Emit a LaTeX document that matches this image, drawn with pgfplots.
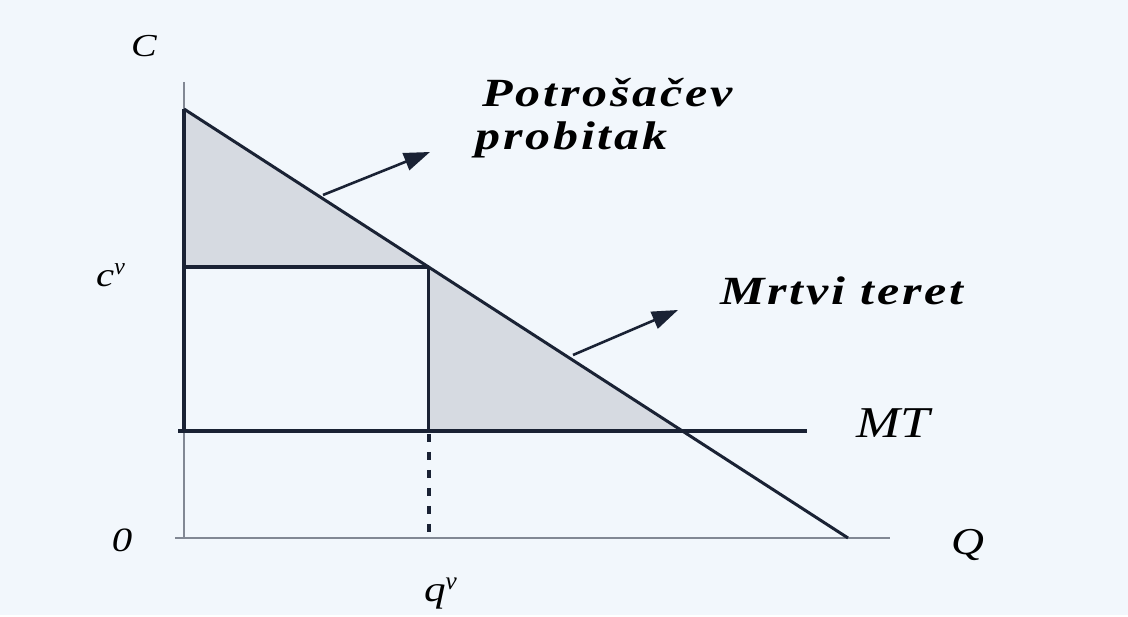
\documentclass[border=0pt]{standalone}
\usepackage{fontspec}
\setmainfont{Liberation Serif}
\newfontfamily\spaced[FakeStretch=1.25,LetterSpace=7]{Liberation Serif}
\newfontfamily\wide[FakeStretch=1.2]{Liberation Serif}
\usepackage{pgfplots}
\pgfplotsset{compat=1.18}
\usetikzlibrary{arrows.meta}
\definecolor{bgc}{RGB}{242,247,252}
\definecolor{ink}{RGB}{26,34,52}
\definecolor{shade}{RGB}{214,218,225}
\definecolor{axc}{RGB}{130,136,148}
\begin{document}
\begin{tikzpicture}
\begin{axis}[
  scale only axis, width=564pt, height=307.5pt,
  xmin=-184, xmax=944, ymin=-77, ymax=538,
  axis lines=none, clip=false,
  axis background/.style={fill=bgc},
]
% shaded areas: consumer surplus and deadweight loss
\addplot[draw=none, fill=shade] coordinates {(0,429) (0,271) (244.6,271) (0,429)};
\addplot[draw=none, fill=shade] coordinates {(244.6,271) (244.6,107) (498.4,107) (244.6,271)};
% axes
\addplot[axc, line width=1.1pt] coordinates {(0,456) (0,0)};
\addplot[axc, line width=1.1pt] coordinates {(-9,0) (706,0)};
\addplot[ink, line width=1.6pt] coordinates {(0,429) (0,107)};
% demand
\addplot[ink, line width=1.5pt] coordinates {(0,429) (664,0)};
% c^v level
\addplot[ink, line width=1.6pt] coordinates {(0,271) (244.6,271)};
% q^v
\addplot[ink, line width=1.6pt] coordinates {(244.6,271) (244.6,107)};
\addplot[ink, line width=2.1pt, dash pattern=on 4pt off 5pt] coordinates {(244.6,104) (244.6,0)};
% MT
\addplot[ink, line width=1.6pt] coordinates {(-6,107) (623,107)};
% arrows
\addplot[ink, line width=1.3pt, -{Triangle[length=13pt,width=9pt]}] coordinates {(139,343) (246,386)};
\addplot[ink, line width=1.3pt, -{Triangle[length=13pt,width=9pt]}] coordinates {(389,183) (494,228)};
% labels
\node[font=\fontsize{16}{19}\selectfont\wide\itshape, anchor=base] at (axis cs:-40,481) {C};
\node[font=\fontsize{17}{20}\selectfont\wide\itshape, anchor=base] at (axis cs:-73,251) {c$^{\mathit{v}}$};
\node[font=\fontsize{17}{20}\selectfont\wide\itshape, anchor=base] at (axis cs:-62,-14) {0};
\node[font=\fontsize{19}{22}\selectfont\wide\itshape, anchor=base] at (axis cs:784,-17) {Q};
\node[font=\fontsize{18}{21}\selectfont\wide\itshape, anchor=base] at (axis cs:257,-64) {q$^{\mathit{v}}$};
\node[font=\fontsize{22}{25}\selectfont\wide\itshape, anchor=base] at (axis cs:709,100) {MT};
\node[font=\fontsize{20}{24}\selectfont\spaced\bfseries\itshape, anchor=base west, inner sep=0pt] at (axis cs:298,431) {Potrošačev};
\node[font=\fontsize{20}{24}\selectfont\spaced\bfseries\itshape, anchor=base west, inner sep=0pt] at (axis cs:291,388) {probitak};
\node[font=\fontsize{20}{24}\selectfont\spaced\bfseries\itshape, anchor=base west, inner sep=0pt] at (axis cs:536,233) {Mrtvi teret};
\end{axis}
\end{tikzpicture}
\end{document}
